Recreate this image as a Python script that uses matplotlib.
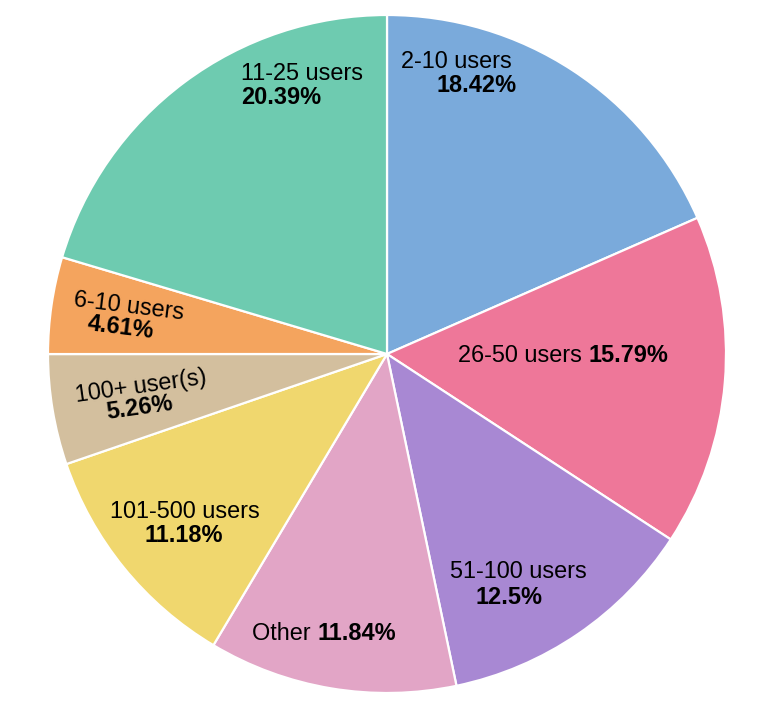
import matplotlib.pyplot as plt

# slices, clockwise from 12 o'clock
labels = ['2-10 users', '26-50 users', '51-100 users', 'Other', '101-500 users',
          '100+ user(s)', '6-10 users', '11-25 users']
shares = [18.42, 15.79, 12.5, 11.84, 11.18, 5.26, 4.61, 20.39]
colors = ['#7AAADB', '#EE7799', '#A888D3', '#E2A5C6', '#F0D76E',
          '#D3BF9E', '#F4A45E', '#6ECBB0']

W, H = 766, 703
fig = plt.figure(figsize=(W / 100, H / 100), dpi=100)
ax = fig.add_axes([0, 0, 1, 1])
ax.set_xlim(0, W)
ax.set_ylim(0, H)
ax.set_aspect('equal')
ax.axis('off')

ax.pie(shares, colors=colors, startangle=90, counterclock=False,
       center=(387, H - 354), radius=339,
       wedgeprops=dict(edgecolor='white', linewidth=1.6))
ax.set_xlim(0, W)
ax.set_ylim(0, H)

plt.rcParams['font.family'] = ['Liberation Sans', 'DejaVu Sans']
fs = 16.9

# label layout (pixel positions from the top-left): name line, pct line, rotation
# None for pct position means name and pct are on one line
layout = {
    '2-10 users': ((456, 62), (477, 86), 0),
    '26-50 users': ((563, 355), None, 0),
    '51-100 users': ((518, 572), (509, 597), 0),
    'Other': ((324, 633), None, 0),
    '101-500 users': ((185, 512), (184, 535), 0),
    '100+ user(s)': ((141, 386), (140, 408), 8),
    '6-10 users': ((129, 306), (121, 328), -7),
    '11-25 users': ((302, 73), (281, 97), 0),
}

renderer = fig.canvas.get_renderer()
for name, pct in zip(labels, shares):
    p1, p2, rot = layout[name]
    val = ('%g' % pct) + '%'
    if p2 is None:
        # name and value on one line, centred as a whole
        t = ax.text(0, 0, name + ' ', fontsize=fs, ha='left', va='center')
        t2 = ax.text(0, 0, val, fontsize=fs, fontweight='bold', ha='left', va='center')
        w1 = t.get_window_extent(renderer=renderer).width
        w2 = t2.get_window_extent(renderer=renderer).width
        left = p1[0] - (w1 + w2) / 2
        t.set_position((left, H - p1[1]))
        t2.set_position((left + w1, H - p1[1]))
    else:
        ax.text(p1[0], H - p1[1], name, fontsize=fs, ha='center', va='center',
                rotation=rot, rotation_mode='anchor')
        ax.text(p2[0], H - p2[1], val, fontsize=fs, fontweight='bold',
                ha='center', va='center', rotation=rot, rotation_mode='anchor')

fig.savefig('out.png', dpi=100)
